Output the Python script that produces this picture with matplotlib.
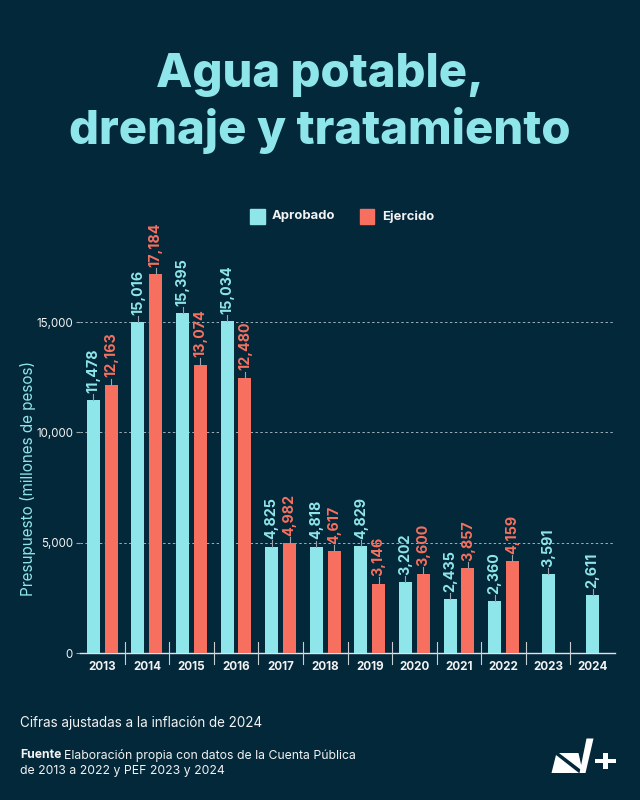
import matplotlib
matplotlib.use("Agg")
import matplotlib.pyplot as plt
from matplotlib.patches import Polygon, Rectangle
import numpy as np

years = ["2013", "2014", "2015", "2016", "2017", "2018", "2019", "2020", "2021", "2022", "2023", "2024"]
aprobado = [11478, 15016, 15395, 15034, 4825, 4818, 4829, 3202, 2435, 2360, 3591, 2611]
ejercido = [12163, 17184, 13074, 12480, 4982, 4617, 3146, 3600, 3857, 4159, None, None]
yticks = [0, 5000, 10000, 15000]

BG = "#03283a"
CYAN = "#8fe6ea"
RED = "#f7705f"
WHITE = "#f2f2f2"
FONT = ["Inter", "DejaVu Sans"]

plt.rcParams['font.family'] = FONT

fig = plt.figure(figsize=(6.4, 8.0), dpi=100, facecolor=BG)
ax = fig.add_axes([80/640, 1-653/800, 535/640, (653-256)/800])
ax.set_facecolor(BG)

x = np.arange(len(years))
w = 0.29
off = 0.2

for i in range(len(years)):
    a = aprobado[i]
    e = ejercido[i]
    if e is None:
        ax.bar(x[i], a, w, color=CYAN, zorder=3)
        pairs = [(x[i], a, CYAN)]
    else:
        ax.bar(x[i]-off, a, w, color=CYAN, zorder=3)
        ax.bar(x[i]+off, e, w, color=RED, zorder=3)
        pairs = [(x[i]-off, a, CYAN), (x[i]+off, e, RED)]
    for xx, v, c in pairs:
        ax.plot([xx, xx], [v, v + 280], color="#9aa5ab", lw=0.8, zorder=3, clip_on=False)
        ax.text(xx, v + 330, f"{v:,}", rotation=90, ha="center", va="bottom",
                color=c, fontsize=10.3, fontweight="bold", clip_on=False)

ax.set_xlim(-0.5, len(years)-0.5)
ax.set_ylim(0, 18000)
ax.set_yticks(yticks)
ax.set_yticklabels([f"{t:,}" for t in yticks], color=WHITE, fontsize=8.3)
ax.tick_params(axis="y", length=3, color="#9aa5ab", pad=2)
for t in yticks[1:]:
    ax.axhline(t, color="#9fb0b8", lw=0.7, ls=(0, (2.5, 2.5)), zorder=1)

ax.set_xticks(x)
ax.set_xticklabels(years, color=WHITE, fontsize=8.4, fontweight="bold")
ax.tick_params(axis="x", length=0, pad=6)
for b in np.arange(0.5, len(years)-1, 1.0):
    ax.plot([b, b], [-500, 500], color="#c8cfd2", lw=0.8, clip_on=False, zorder=4)

for s in ["top", "right", "left"]:
    ax.spines[s].set_visible(False)
ax.spines["bottom"].set_color("#e0e4e6")
ax.spines["bottom"].set_linewidth(1.0)

ax.set_ylabel("Presupuesto (millones de pesos)", color=CYAN, fontsize=11.0)
ax.yaxis.set_label_coords(-0.083, (653-478)/397)

# Title
fig.text(0.5, 1-75/800, "Agua potable,", ha="center", va="center", color=CYAN,
         fontsize=34, fontweight="heavy")
fig.text(0.5, 1-131/800, "drenaje y tratamiento", ha="center", va="center", color=CYAN,
         fontsize=34, fontweight="heavy")

# Legend
fig.patches.append(Rectangle((250/640, 1-224/800), 14.5/640, 15/800, transform=fig.transFigure,
                             color=CYAN, figure=fig))
fig.text(272/640, 1-216.5/800, "Aprobado", color=WHITE, fontsize=9.4, fontweight="bold", va="center")
fig.patches.append(Rectangle((359.5/640, 1-224/800), 14.5/640, 15/800, transform=fig.transFigure,
                             color=RED, figure=fig))
fig.text(382/640, 1-216.5/800, "Ejercido", color=WHITE, fontsize=9.4, fontweight="bold", va="center")

# Footer
fig.text(20/640, 1-723/800, "Cifras ajustadas a la inflación de 2024", color=WHITE, fontsize=9.7, va="center")
fig.text(20/640, 1-755/800, "Fuente", color=WHITE, fontsize=8.8, fontweight="bold", va="center")
fig.text(64/640, 1-755/800, "Elaboración propia con datos de la Cuenta Pública", color=WHITE, fontsize=8.8, va="center")
fig.text(20/640, 1-771/800, "de 2013 a 2022 y PEF 2023 y 2024", color=WHITE, fontsize=8.8, va="center")

# Logo N+
def P(pts):
    return [(px/640, 1-py/800) for px, py in pts]
def poly(pts):
    fig.patches.append(Polygon(P(pts), closed=True, transform=fig.transFigure,
                               color="white", figure=fig, lw=0))
poly([(556, 755), (551.5, 773), (579, 773)])
poly([(559, 753), (578.5, 753), (582.5, 771)])
poly([(586.5, 738.5), (593.5, 738.5), (585.5, 773), (579.5, 773)])
fig.patches.append(Rectangle((603/640, 1-769/800), 4.5/640, 16/800, transform=fig.transFigure,
                             color="white", figure=fig, lw=0))
fig.patches.append(Rectangle((595/640, 1-763.3/800), 21/640, 4.5/800, transform=fig.transFigure,
                             color="white", figure=fig, lw=0))

fig.savefig("out.png", dpi=100, facecolor=BG)
